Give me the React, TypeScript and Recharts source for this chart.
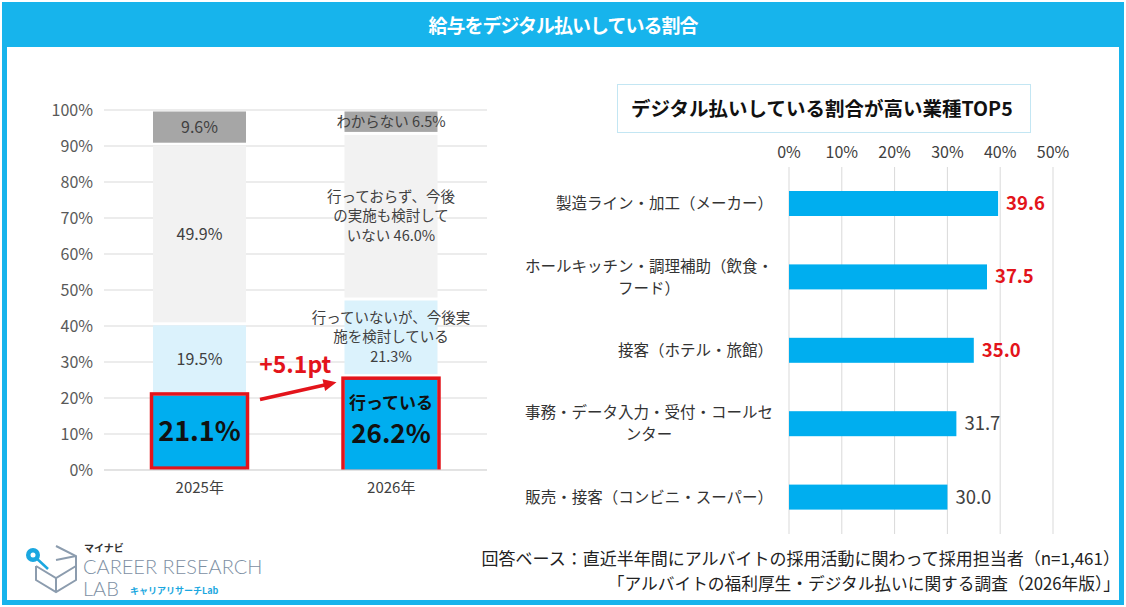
import React from 'react';
import { Bar, BarChart, CartesianGrid, XAxis, YAxis } from 'recharts';

const FONT = '"Noto Sans CJK JP", "Noto Sans", sans-serif';
const BLUE = '#00aeef';
const RED = '#e3141b';
const FRAME = '#17b4ec';
const GRID = '#d9d9d9';

// 給与のデジタル払い 実施状況（%）
const years = ['2025年', '2026年'];
const doing = [21.1, 26.2];
const considering = [19.5, 21.3];
const notConsidering = [49.9, 46.0];
const unknown = [9.6, 6.5];
const percentTicks = [0, 10, 20, 30, 40, 50, 60, 70, 80, 90, 100];

// segment captions, {v} is replaced by the value
const doingText = ['{v}', '行っている\n{v}'];
const consideringText = ['{v}', '行っていないが、今後実\n施を検討している\n{v}'];
const notConsideringText = ['{v}', '行っておらず、今後\nの実施も検討して\nいない {v}'];
const unknownText = ['{v}', 'わからない {v}'];

// 業種別 TOP5（%）
const industries = [
  '製造ライン・加工（メーカー）',
  'ホールキッチン・調理補助（飲食・\nフード）',
  '接客（ホテル・旅館）',
  '事務・データ入力・受付・コールセ\nンター',
  '販売・接客（コンビニ・スーパー）',
];
const industryRates = [39.6, 37.5, 35.0, 31.7, 30.0];
const industryTicks = [0, 10, 20, 30, 40, 50];
const highlightTop = 3;

const statusData = years.map((year, i) => ({
  year,
  doing: doing[i],
  considering: considering[i],
  notConsidering: notConsidering[i],
  unknown: unknown[i],
}));

const industryData = industries.map((name, i) => ({ name, rate: industryRates[i] }));

const L_W = 490;
const L_H = 420;
const L_MARGIN = { top: 20, right: 3, bottom: 0, left: 0 };
const L_YAXIS_W = 104;
const bandStep = (L_W - L_MARGIN.left - L_MARGIN.right - L_YAXIS_W) / years.length;

const fmt = (v: number) => `${v.toFixed(1)}%`;

const segmentLabel = (text: string, value: number) => text.replace('{v}', fmt(value)).split('\n');

const makeSegment = (fill: string, texts: string[], values: number[]) => (p: any) => {
  const { x, y, width, height, index } = p;
  const lines = segmentLabel(texts[index], values[index]);
  const fs = index === 1 ? 14.5 : 16;
  const lh = 19.5;
  const cx = x + width / 2;
  const y0 = y + height / 2 - ((lines.length - 1) * lh) / 2;
  return (
    <g>
      <rect x={x} y={y + 1.5} width={width} height={Math.max(height - 3, 0)} fill={fill} />
      {lines.map((l, i) => (
        <text key={i} x={cx} y={y0 + i * lh} dy="0.35em" textAnchor="middle" fontFamily={FONT} fontSize={fs} fill="#404040">
          {l}
        </text>
      ))}
    </g>
  );
};

const DoingSegment = (p: any) => {
  const { x, y, width, height, index } = p;
  const lines = segmentLabel(doingText[index], doing[index]);
  const cx = x + width / 2;
  const cy = y + height / 2;
  return (
    <g>
      <rect x={x} y={y + 1.5} width={width} height={Math.max(height - 1.5, 0)} fill={BLUE} />
      {lines.length === 1 ? (
        <text x={cx} y={cy} dy="0.35em" textAnchor="middle" fontFamily={FONT} fontSize={27} fontWeight={700} fill="#111">
          {lines[0]}
        </text>
      ) : (
        <>
          <text x={cx} y={cy - 20} dy="0.35em" textAnchor="middle" fontFamily={FONT} fontSize={17} fontWeight={700} fill="#111">
            {lines[0]}
          </text>
          <text x={cx} y={cy + 11} dy="0.35em" textAnchor="middle" fontFamily={FONT} fontSize={26} fontWeight={700} fill="#111">
            {lines[1]}
          </text>
        </>
      )}
    </g>
  );
};

// top segment also carries the red frames and the +pt arrow, so they sit above every bar
const UnknownSegment = (p: any) => {
  const { x, y, width, height, index } = p;
  const base = makeSegment('#a6a6a6', unknownText, unknown)(p);
  const ppu = height / unknown[index];
  const bottom = y + height + (doing[index] + considering[index] + notConsidering[index]) * ppu;
  const top = bottom - doing[index] * ppu;
  const frame = (
    <rect x={x - 1.5} y={top + 2.5} width={width + 3} height={bottom - top - 1} fill="none" stroke={RED} strokeWidth={3.5} />
  );
  if (index !== 0) return <g>{base}{frame}</g>;

  const nextTop = bottom - doing[1] * ppu;
  const sx = x + width + 14;
  const sy = top + 8;
  const ex = x + bandStep - 8;
  const ey = nextTop + 9;
  const len = Math.hypot(ex - sx, ey - sy);
  const ux = (ex - sx) / len;
  const uy = (ey - sy) / len;
  const hl = 13;
  const hw = 6;
  const bx = ex - ux * hl;
  const by = ey - uy * hl;
  const diff = doing[1] - doing[0];
  return (
    <g>
      {base}
      {frame}
      <line x1={sx} y1={sy} x2={bx + ux * 2} y2={by + uy * 2} stroke={RED} strokeWidth={3.5} />
      <polygon points={`${ex},${ey} ${bx - uy * hw},${by + ux * hw} ${bx + uy * hw},${by - ux * hw}`} fill={RED} />
      <text x={(x + width + x + bandStep) / 2} y={nextTop} textAnchor="middle" fontFamily={FONT} fontSize={23} fontWeight={700} fill={RED}>
        {`+${diff.toFixed(1)}pt`}
      </text>
    </g>
  );
};

const RateBar = (p: any) => {
  const { x, y, width, height, index } = p;
  const hot = index < highlightTop;
  return (
    <g>
      <rect x={x} y={y} width={width} height={height} fill={BLUE} />
      <text
        x={x + width + 8}
        y={y + height / 2}
        dy="0.35em"
        fontFamily={FONT}
        fontSize={18.5}
        fontWeight={hot ? 700 : 400}
        fill={hot ? RED : '#404040'}
      >
        {industryRates[index].toFixed(1)}
      </text>
    </g>
  );
};

const IndustryTick = (p: any) => {
  const lines = String(p.payload.value).split('\n');
  const fs = 15.5;
  const lh = 22;
  const right = p.x - 16;
  const blockW = Math.max(...lines.map((l) => l.length)) * fs;
  const y0 = p.y - ((lines.length - 1) * lh) / 2;
  const multi = lines.length > 1;
  return (
    <g>
      {lines.map((l, i) => (
        <text
          key={i}
          x={multi ? right - blockW / 2 : right}
          y={y0 + i * lh}
          dy="0.35em"
          textAnchor={multi ? 'middle' : 'end'}
          fontFamily={FONT}
          fontSize={fs}
          fill="#333"
        >
          {l}
        </text>
      ))}
    </g>
  );
};

const Logo = () => (
  <svg width={250} height={66} style={{ position: 'absolute', left: 20, top: 536 }}>
    <g fill="none" stroke="#8c9cae" strokeWidth={2}>
      <path d="M36 10 L56 20 L56 44 L36 56 L16 44 L16 30" />
      <path d="M16 30 L36 42 L56 30" />
      <path d="M36 42 L36 56" />
      <path d="M36 24 L56 20" />
    </g>
    <line x1={14} y1={20} x2={28} y2={33} stroke="#1aa7e0" strokeWidth={2.5} />
    <circle cx={13} cy={19} r={7} fill="#1aa7e0" />
    <circle cx={13} cy={19} r={2.5} fill="#fff" />
    <text x={64} y={16} fontFamily={FONT} fontSize={10} fontWeight={700} fill="#333">マイナビ</text>
    <text x={63} y={38} fontFamily="Lato, sans-serif" fontWeight={300} fontSize={20} fill="#7d8fa3">CAREER RESEARCH</text>
    <text x={63} y={60} fontFamily="Lato, sans-serif" fontWeight={300} fontSize={20} fill="#7d8fa3">LAB</text>
    <text x={110} y={58} fontFamily={FONT} fontSize={9} fontWeight={700} fill="#1aa7e0">キャリアリサーチLab</text>
  </svg>
);

export default function App() {
  return (
    <div style={{ position: 'absolute', left: 0, top: 0, width: 1126, height: 607, background: '#fff', fontFamily: FONT }}>
      <div
        style={{
          position: 'absolute',
          left: 2,
          top: 2,
          width: 1122,
          height: 603,
          boxSizing: 'border-box',
          border: `5px solid ${FRAME}`,
        }}
      />
      <div
        style={{
          position: 'absolute',
          left: 2,
          top: 2,
          width: 1122,
          height: 45,
          background: FRAME,
          color: '#fff',
          fontSize: 19,
          fontWeight: 700,
          letterSpacing: -1,
          lineHeight: '45px',
          textAlign: 'center',
        }}
      >
        給与をデジタル払いしている割合
      </div>

      <div style={{ position: 'absolute', left: 0, top: 90 }}>
        <BarChart width={L_W} height={L_H} data={statusData} margin={L_MARGIN}>
          <CartesianGrid vertical={false} stroke={GRID} />
          <XAxis
            dataKey="year"
            height={40}
            axisLine={{ stroke: GRID }}
            tickLine={false}
            tickSize={0}
            tickMargin={12}
            tick={{ fontSize: 15, fill: '#404040', fontFamily: FONT }}
          />
          <YAxis
            type="number"
            domain={[0, 100]}
            allowDataOverflow
            ticks={percentTicks}
            interval={0}
            width={L_YAXIS_W}
            axisLine={false}
            tickLine={false}
            tickSize={8}
            tickMargin={3}
            tickFormatter={(v: number) => `${v}%`}
            tick={{ fontSize: 16, fill: '#595959', fontFamily: FONT }}
          />
          <Bar dataKey="doing" stackId="s" barSize={93} shape={DoingSegment} isAnimationActive={false} />
          <Bar dataKey="considering" stackId="s" barSize={93} shape={makeSegment('#dbf2fc', consideringText, considering)} isAnimationActive={false} />
          <Bar dataKey="notConsidering" stackId="s" barSize={93} shape={makeSegment('#f2f2f2', notConsideringText, notConsidering)} isAnimationActive={false} />
          <Bar dataKey="unknown" stackId="s" barSize={93} shape={UnknownSegment} isAnimationActive={false} />
        </BarChart>
      </div>

      <div
        style={{
          position: 'absolute',
          left: 617,
          top: 84,
          width: 414,
          height: 49,
          boxSizing: 'border-box',
          border: '1.5px solid #c3e6f3',
          paddingLeft: 13,
          lineHeight: '46px',
          fontSize: 19.5,
          fontWeight: 700,
          color: '#111',
        }}
      >
        デジタル払いしている割合が高い業種TOP5
      </div>

      <div style={{ position: 'absolute', left: 490, top: 130 }}>
        <BarChart width={620} height={404} data={industryData} layout="vertical" margin={{ top: 0, right: 57, bottom: 0, left: 0 }}>
          <CartesianGrid horizontal={false} stroke={GRID} />
          <XAxis
            type="number"
            orientation="top"
            domain={[0, 50]}
            ticks={industryTicks}
            interval={0}
            height={37}
            axisLine={false}
            tickLine={false}
            tickSize={0}
            tickMargin={9}
            tickFormatter={(v: number) => `${v}%`}
            tick={{ fontSize: 16, fill: '#404040', fontFamily: FONT }}
          />
          <YAxis
            type="category"
            dataKey="name"
            width={299}
            interval={0}
            axisLine={false}
            tickLine={false}
            tickSize={0}
            tickMargin={0}
            tick={IndustryTick}
          />
          <Bar dataKey="rate" barSize={25} shape={RateBar} isAnimationActive={false} />
        </BarChart>
      </div>

      <Logo />

      <div style={{ position: 'absolute', right: 6, top: 545, textAlign: 'right', color: '#222', whiteSpace: 'nowrap' }}>
        <div style={{ fontSize: 17, lineHeight: '25px' }}>回答ベース：直近半年間にアルバイトの採用活動に関わって採用担当者（n=1,461）</div>
        <div style={{ fontSize: 16.7, lineHeight: '27px' }}>「アルバイトの福利厚生・デジタル払いに関する調査（2026年版）」</div>
      </div>
    </div>
  );
}
